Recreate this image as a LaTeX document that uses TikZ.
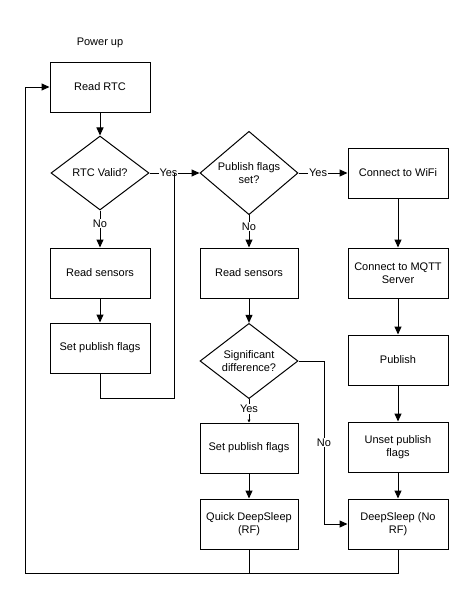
\documentclass[tikz,border=0pt]{standalone}
\usepackage{fontspec}
\setmainfont{Liberation Sans}
\usetikzlibrary{shapes.geometric,arrows.meta}
\tikzset{
  stepbox/.style={draw,line width=1pt,minimum width=100pt,minimum height=50pt,align=center,inner sep=2pt},
  decision/.style={draw,diamond,line width=1pt,minimum width=98pt,minimum height=72pt,inner sep=0pt,align=center},
  flow/.style={line width=1pt,-{Triangle[length=8pt,width=7pt]}},
  wire/.style={line width=1pt},
  lbl/.style={fill=white,inner sep=1pt}
}
\begin{document}
\begin{tikzpicture}[x=1pt,y=-1pt,font=\fontsize{11}{13}\selectfont]
\useasboundingbox (0,0) rectangle (474,600);
% 左の列
\node (power) at (100,43) {Power up};
\node[stepbox] (rtc) at (100,87) {Read RTC};
\node[decision,minimum height=74pt] (valid) at (100,173) {RTC Valid?};
\node[stepbox] (sens1) at (100,273) {Read sensors};
\node[stepbox] (flags1) at (100,348) {Set publish flags};
% 中の列
\node[decision] (pubset) at (249,173) {Publish flags\\set?};
\node[stepbox,minimum width=98pt] (sens2) at (249,273) {Read sensors};
\node[decision] (diff) at (249,361) {Significant\\difference?};
\node[stepbox,minimum width=98pt] (flags2) at (249,448) {Set publish flags};
\node[stepbox,minimum width=98pt] (quick) at (249,524) {Quick DeepSleep\\(RF)};
% 右の列
\node[stepbox] (wifi) at (398,173) {Connect to WiFi};
\node[stepbox] (mqtt) at (398,273) {Connect to MQTT\\Server};
\node[stepbox] (publish) at (398,360) {Publish};
\node[stepbox] (unset) at (398,447) {Unset publish\\flags};
\node[stepbox] (sleep) at (398,524) {DeepSleep (No\\RF)};
% 矢印
\coordinate (join) at (174,173);
\coordinate (loopA) at (100,398);
\coordinate (loopB) at (174,398);
\coordinate (noA) at (324,361);
\coordinate (noB) at (324,524);
\coordinate (botQ) at (249,573);
\coordinate (botS) at (398,573);
\coordinate (botL) at (25,573);
\coordinate (topL) at (25,87);
\draw[flow] (rtc) -- (valid);
\draw[flow] (valid) -- node[lbl,pos=0.38] {Yes} (pubset);
\draw[flow] (valid) -- node[lbl,pos=0.35] {No} (sens1);
\draw[flow] (sens1) -- (flags1);
\draw[wire] (flags1) -- (loopA) -- (loopB) -- (join);
\draw[flow] (pubset) -- node[lbl,pos=0.4] {Yes} (wifi);
\draw[flow] (pubset) -- node[lbl,pos=0.35] {No} (sens2);
\draw[flow] (sens2) -- (diff);
\draw[line width=1pt,-{Triangle[length=3pt,width=3pt]}] (diff) -- node[lbl,pos=0.42] {Yes} (flags2);
\draw[flow] (diff.east) -- (noA) -- node[lbl] {No} (noB) -- (sleep.west);
\draw[flow] (flags2) -- (quick);
\draw[flow] (wifi) -- (mqtt);
\draw[flow] (mqtt) -- (publish);
\draw[flow] (publish) -- (unset);
\draw[flow] (unset) -- (sleep);
\draw[wire] (quick) -- (botQ);
\draw[flow] (sleep) -- (botS) -- (botL) -- (topL) -- (rtc.west);
\end{tikzpicture}
\end{document}
